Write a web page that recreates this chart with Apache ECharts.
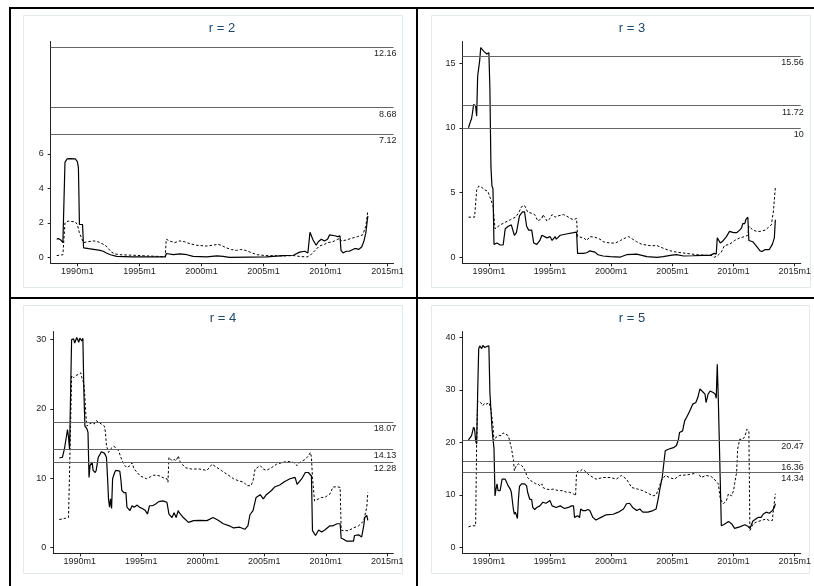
<!DOCTYPE html>
<html>
<head>
<meta charset="utf-8">
<script src="https://cdn.jsdelivr.net/npm/echarts@6/dist/echarts.min.js"></script>
<style>
  html, body { margin: 0; padding: 0; background: #fff; }
  #chart { width: 814px; height: 586px; }
</style>
</head>
<body>
<div id="chart"></div>
<script>
// Recursive test statistics by cointegration rank, monthly 1988m5-2013m6.
// Solid and dashed traces per rank, with critical values as horizontal rules.

const titles = ['r = 2', 'r = 3', 'r = 4', 'r = 5'];
const xTickLabels = ['1990m1', '1995m1', '2000m1', '2005m1', '2010m1', '2015m1'];
const yTicks2 = [0, 2, 4, 6];
const yTicks3 = [0, 5, 10, 15];
const yTicks4 = [0, 10, 20, 30];
const yTicks5 = [0, 10, 20, 30, 40];

const crit2 = [12.16, 8.68, 7.12];
const crit3 = [15.56, 11.72, 10];
const crit4 = [18.07, 14.13, 12.28];
const crit5 = [20.47, 16.36, 14.34];

const r2Solid = [['1988m5',1.05],['1988m7',1.08],['1988m9',1.0],['1988m11',0.85],['1988m12',0.78],
  ['1989m1',5.5],['1989m3',5.7],['1989m6',5.72],['1989m11',5.7],['1990m1',5.55],['1990m2',5.2],['1990m3',1.9],
  ['1990m6',1.9],['1990m7',0.55],['1990m12',0.5],['1991m11',0.4],['1992m2',0.35],['1992m5',0.25],['1992m9',0.15],
  ['1993m3',0.05],['1994m6',0.02],['1997m2',0.02],['1997m3',0.22],['1997m10',0.15],['1998m4',0.2],['1998m11',0.15],
  ['1999m5',0.05],['2000m6',0.02],['2001m4',0.08],['2001m10',0.05],['2002m4',0.0],['2005m4',0.02],['2006m8',0.1],
  ['2007m6',0.12],['2007m12',0.3],['2008m5',0.35],['2008m8',0.25],['2008m9',0.28],['2008m10',1.45],['2009m1',1.0],
  ['2009m4',0.7],['2009m6',0.9],['2009m9',1.05],['2009m12',0.95],['2010m3',1.05],['2010m5',1.3],['2010m10',1.25],
  ['2011m1',1.2],['2011m3',1.25],['2011m4',0.4],['2011m6',0.25],['2011m9',0.35],['2011m12',0.35],['2012m5',0.5],
  ['2012m7',0.5],['2012m9',0.45],['2012m12',0.6],['2013m2',0.9],['2013m4',1.4],['2013m6',2.4]];

const r2Dashed = [['1988m5',0.1],['1988m11',0.15],['1988m12',0.2],['1989m1',2.0],['1989m4',2.1],['1989m11',2.05],
  ['1990m1',1.9],['1990m3',1.4],['1990m7',0.85],['1990m11',0.9],['1991m5',0.95],['1991m9',0.9],['1992m4',0.7],
  ['1992m7',0.5],['1992m10',0.3],['1993m1',0.2],['1993m6',0.15],['1994m7',0.12],['1995m8',0.08],['1996m8',0.05],
  ['1997m2',0.03],['1997m3',1.05],['1997m6',0.95],['1997m11',0.85],['1998m4',0.95],['1998m9',0.9],['1999m1',0.8],
  ['1999m8',0.7],['2000m6',0.65],['2000m12',0.7],['2001m5',0.75],['2001m8',0.7],['2002m1',0.55],['2002m6',0.45],
  ['2002m11',0.4],['2003m3',0.45],['2003m8',0.4],['2004m2',0.25],['2004m7',0.15],['2005m3',0.1],['2006m8',0.08],
  ['2007m6',0.1],['2007m12',0.05],['2008m7',0.02],['2008m10',0.1],['2009m3',0.4],['2009m7',0.65],['2009m12',0.75],
  ['2010m3',0.85],['2010m8',0.9],['2011m1',1.05],['2011m3',1.1],['2011m4',0.95],['2011m9',1.0],['2012m2',1.1],
  ['2012m8',1.2],['2013m1',1.3],['2013m4',1.8],['2013m6',2.7]];

const r3Solid = [['1988m5',10.0],['1988m7',10.5],['1988m8',10.7],['1988m9',11.2],['1988m10',11.8],['1988m12',11.7],
  ['1989m1',10.9],['1989m2',14.0],['1989m4',15.2],['1989m5',16.2],['1989m6',16.1],['1989m8',15.9],['1989m9',15.9],
  ['1989m11',15.7],['1990m1',15.8],['1990m2',13.0],['1990m3',7.0],['1990m4',5.5],['1990m5',5.3],['1990m6',1.0],
  ['1990m9',1.1],['1990m12',0.95],['1991m3',0.95],['1991m5',2.2],['1991m8',2.4],['1991m11',2.5],['1992m2',1.7],
  ['1992m4',1.9],['1992m7',3.2],['1992m10',3.5],['1992m12',3.5],['1993m2',2.4],['1993m4',2.1],['1993m7',2.1],
  ['1993m9',1.1],['1993m12',1.0],['1994m3',1.3],['1994m5',1.7],['1994m10',1.5],['1995m1',1.6],['1995m3',1.3],
  ['1995m6',1.6],['1995m7',1.4],['1995m11',1.7],['1996m5',1.8],['1996m12',1.9],['1997m3',1.95],['1997m4',0.3],
  ['1997m10',0.3],['1998m1',0.35],['1998m4',0.5],['1998m9',0.4],['1998m12',0.2],['1999m5',0.1],['1999m12',0.05],
  ['2000m10',0.02],['2001m4',0.2],['2002m2',0.25],['2002m7',0.15],['2002m12',0.05],['2003m10',0.0],['2004m4',0.05],
  ['2004m11',0.15],['2005m5',0.2],['2005m12',0.1],['2006m9',0.12],['2007m7',0.15],['2008m2',0.15],['2008m6',0.3],
  ['2008m8',0.25],['2008m9',1.5],['2008m12',1.1],['2009m3',1.3],['2009m6',1.6],['2009m9',2.0],['2010m1',1.9],
  ['2010m4',1.9],['2010m7',2.1],['2010m9',2.3],['2010m10',2.6],['2010m12',2.6],['2011m1',2.9],['2011m3',3.1],
  ['2011m4',1.3],['2011m8',1.2],['2011m12',0.8],['2012m3',0.5],['2012m5',0.45],['2012m8',0.6],['2012m12',0.6],
  ['2013m3',1.0],['2013m5',1.5],['2013m6',2.9]];

const r3Dashed = [['1988m5',3.1],['1988m11',3.1],['1988m12',3.05],['1989m1',5.2],['1989m3',5.5],['1989m6',5.4],
  ['1989m9',5.2],['1989m12',5.1],['1990m4',4.2],['1990m5',4.0],['1990m7',2.2],['1990m12',2.5],['1991m5',2.7],
  ['1991m10',2.9],['1992m3',3.1],['1992m6',3.4],['1992m9',3.9],['1992m12',4.0],['1993m3',3.5],['1993m7',3.4],
  ['1993m10',3.3],['1994m1',2.8],['1994m5',3.0],['1994m6',3.3],['1994m10',2.8],['1995m1',3.0],['1995m3',3.3],
  ['1995m6',3.1],['1995m9',3.2],['1996m2',3.3],['1996m5',3.2],['1996m9',3.0],['1996m12',2.9],['1997m3',3.0],
  ['1997m4',1.6],['1997m10',1.5],['1998m1',1.3],['1998m4',1.6],['1998m9',1.55],['1999m2',1.4],['1999m5',1.2],
  ['1999m12',1.1],['2000m5',1.1],['2000m10',1.3],['2001m3',1.5],['2001m6',1.6],['2001m10',1.4],['2002m2',1.2],
  ['2002m7',1.0],['2003m3',0.9],['2003m10',0.9],['2004m4',0.7],['2004m11',0.5],['2005m5',0.4],['2006m3',0.3],
  ['2007m1',0.2],['2007m10',0.15],['2008m3',0.15],['2008m6',0.0],['2008m9',0.1],['2009m1',0.4],['2009m4',0.9],
  ['2009m9',1.0],['2010m2',1.3],['2010m7',1.5],['2010m12',1.6],['2011m3',1.7],['2011m4',2.4],['2011m8',2.1],
  ['2011m12',2.0],['2012m3',2.0],['2012m8',2.1],['2012m11',2.3],['2013m2',2.5],['2013m4',3.5],['2013m6',5.4]];

const r4Solid = [['1988m5',12.9],['1988m8',13.0],['1988m10',14.2],['1988m11',14.4],['1989m1',17.0],['1989m2',15.9],
  ['1989m3',14.2],['1989m4',22.0],['1989m5',30.0],['1989m7',30.1],['1989m8',29.5],['1989m10',30.3],['1989m12',29.6],
  ['1990m1',30.2],['1990m3',29.8],['1990m4',30.2],['1990m5',22.4],['1990m6',17.5],['1990m8',17.1],['1990m9',16.6],
  ['1990m10',10.1],['1990m11',11.8],['1991m1',12.3],['1991m2',11.1],['1991m4',10.8],['1991m5',11.1],['1991m7',13.0],
  ['1991m9',13.5],['1991m10',13.8],['1992m1',13.6],['1992m3',13.0],['1992m4',10.3],['1992m5',7.0],['1992m6',5.8],
  ['1992m7',7.0],['1992m8',5.6],['1992m9',9.9],['1992m11',10.8],['1992m12',11.1],['1993m4',11.0],['1993m5',9.9],
  ['1993m6',8.2],['1993m8',7.9],['1993m10',7.9],['1993m11',5.8],['1994m2',5.3],['1994m4',6.0],['1994m6',5.8],
  ['1994m9',6.1],['1994m11',5.8],['1995m2',5.6],['1995m5',5.3],['1995m7',4.8],['1995m9',6.0],['1995m12',6.0],
  ['1996m3',6.25],['1996m6',6.6],['1996m10',6.7],['1997m2',6.5],['1997m4',4.8],['1997m7',4.3],['1997m9',5.0],
  ['1997m11',4.3],['1998m1',5.3],['1998m2',5.0],['1998m6',4.3],['1998m11',3.6],['1999m4',3.85],['1999m10',3.9],
  ['2000m5',3.85],['2000m11',4.3],['2001m4',3.9],['2001m9',3.4],['2002m3',3.1],['2002m7',2.8],['2003m1',2.9],
  ['2003m6',2.6],['2003m9',3.1],['2003m11',4.7],['2004m2',5.3],['2004m5',7.2],['2004m9',7.6],['2004m12',7.0],
  ['2005m3',7.6],['2005m8',8.2],['2005m11',8.7],['2006m4',9.0],['2006m9',9.5],['2007m2',9.9],['2007m7',10.1],
  ['2007m9',9.1],['2008m2',10.0],['2008m5',10.8],['2008m8',10.8],['2008m11',10.3],['2008m12',2.4],['2009m3',1.7],
  ['2009m6',2.5],['2009m9',2.2],['2009m12',2.5],['2010m5',3.1],['2010m8',3.1],['2010m12',3.4],['2011m3',3.4],
  ['2011m4',1.3],['2011m6',1.2],['2011m9',0.9],['2012m4',0.9],['2012m5',1.7],['2012m9',1.8],['2012m12',1.5],
  ['2013m2',3.1],['2013m3',4.3],['2013m5',4.6],['2013m6',3.9]];

const r4Dashed = [['1988m5',4.0],['1988m11',4.2],['1989m2',4.3],['1989m3',4.3],['1989m4',17.5],['1989m5',24.8],
  ['1989m7',24.5],['1989m9',24.8],['1989m12',25.0],['1990m2',25.2],['1990m3',24.5],['1990m5',23.6],['1990m6',21.6],
  ['1990m7',19.0],['1990m8',17.5],['1990m10',17.8],['1991m1',18.0],['1991m3',17.8],['1991m5',18.3],['1991m8',18.0],
  ['1991m10',17.8],['1992m1',17.5],['1992m2',16.6],['1992m3',14.7],['1992m5',13.7],['1992m7',14.2],['1992m10',14.6],
  ['1992m12',14.4],['1993m3',13.9],['1993m5',13.0],['1993m7',12.3],['1993m9',11.8],['1993m11',11.5],['1994m2',11.8],
  ['1994m4',12.2],['1994m6',11.3],['1994m9',10.8],['1994m12',10.3],['1995m3',10.1],['1995m6',9.9],['1995m10',10.2],
  ['1996m1',10.4],['1996m4',10.4],['1996m7',10.3],['1996m11',10.0],['1997m2',9.9],['1997m3',9.4],['1997m4',13.0],
  ['1997m7',12.5],['1997m9',12.7],['1997m11',12.5],['1998m1',13.2],['1998m3',12.3],['1998m8',11.5],['1999m2',11.3],
  ['1999m10',11.3],['2000m5',11.1],['2000m10',12.0],['2001m3',11.5],['2001m7',11.1],['2001m12',10.6],['2002m7',9.9],
  ['2002m12',9.6],['2003m5',9.4],['2003m8',8.9],['2003m12',8.9],['2004m2',9.6],['2004m4',11.3],['2004m9',11.8],
  ['2004m12',11.3],['2005m3',11.1],['2005m8',11.5],['2006m1',12.0],['2006m8',12.3],['2006m12',12.4],['2007m5',12.3],
  ['2007m9',11.8],['2007m12',12.3],['2008m5',12.7],['2008m8',13.2],['2008m10',13.7],['2008m11',13.0],['2008m12',10.1],
  ['2009m2',6.7],['2009m6',7.0],['2009m9',7.2],['2009m12',7.2],['2010m5',7.7],['2010m8',8.7],['2010m12',8.75],
  ['2011m3',8.65],['2011m4',2.5],['2011m6',2.4],['2011m11',2.4],['2012m4',2.8],['2012m9',3.1],['2012m12',3.5],
  ['2013m2',3.85],['2013m5',5.8],['2013m6',7.9]];

const r5Solid = [['1988m5',20.5],['1988m6',20.6],['1988m8',21.3],['1988m10',22.9],['1988m11',22.5],['1988m12',20.3],
  ['1989m1',19.7],['1989m2',29.5],['1989m3',37.8],['1989m4',38.4],['1989m6',37.9],['1989m7',38.5],['1989m9',38.1],
  ['1989m11',38.3],['1990m1',38.4],['1990m2',29.5],['1990m4',22.9],['1990m5',20.6],['1990m6',18.9],['1990m7',9.8],
  ['1990m8',11.1],['1990m9',12.1],['1990m10',10.8],['1990m11',11.1],['1990m12',10.8],['1991m2',13.0],['1991m3',13.3],
  ['1991m5',13.0],['1991m6',12.7],['1991m7',12.1],['1991m8',11.7],['1991m10',11.1],['1991m11',10.5],['1992m1',7.3],
  ['1992m2',6.3],['1992m3',6.7],['1992m5',5.5],['1992m6',9.2],['1992m7',11.6],['1992m9',12.1],['1992m12',12.1],
  ['1993m2',11.7],['1993m3',10.5],['1993m5',9.2],['1993m7',9.1],['1993m8',7.6],['1993m10',7.2],['1993m12',7.6],
  ['1994m3',7.9],['1994m6',8.6],['1994m9',8.4],['1995m1',8.9],['1995m3',7.9],['1995m7',7.6],['1995m11',7.9],
  ['1996m3',7.4],['1996m7',7.6],['1996m10',7.9],['1996m12',7.9],['1997m1',5.7],['1997m4',6.0],['1997m6',5.7],
  ['1997m7',7.3],['1997m9',7.0],['1997m12',7.0],['1998m2',7.2],['1998m4',7.0],['1998m7',5.7],['1998m10',5.2],
  ['1999m3',5.7],['1999m8',6.2],['2000m3',6.3],['2000m8',6.7],['2001m1',7.3],['2001m4',8.3],['2001m7',8.4],
  ['2001m10',7.6],['2002m2',7.0],['2002m5',7.3],['2002m8',6.7],['2003m1',6.7],['2003m6',7.0],['2003m9',7.3],
  ['2003m11',9.2],['2004m1',11.4],['2004m3',13.3],['2004m6',18.4],['2004m9',18.7],['2005m2',19.0],['2005m5',19.4],
  ['2005m7',20.6],['2005m8',21.9],['2005m11',22.2],['2006m1',24.1],['2006m3',24.8],['2006m6',26.0],['2006m9',27.3],
  ['2006m12',27.6],['2007m2',28.6],['2007m4',30.2],['2007m6',29.8],['2007m9',29.2],['2007m10',27.6],['2007m12',29.2],
  ['2008m2',29.8],['2008m5',29.5],['2008m7',29.2],['2008m8',28.4],['2008m9',34.9],['2008m10',28.5],['2009m1',4.1],
  ['2009m4',4.4],['2009m8',4.9],['2009m11',4.5],['2010m2',3.6],['2010m7',3.9],['2010m12',4.3],['2011m3',4.0],
  ['2011m5',3.6],['2011m8',5.0],['2012m1',5.7],['2012m4',5.7],['2012m6',6.3],['2012m9',6.7],['2012m12',6.5],
  ['2013m3',7.0],['2013m5',7.6],['2013m6',8.3]];

const r5Dashed = [['1988m5',3.9],['1988m8',4.1],['1988m12',4.1],['1989m1',20.0],['1989m2',27.9],['1989m5',27.6],
  ['1989m7',27.0],['1989m9',27.5],['1989m11',27.3],['1990m1',27.6],['1990m3',26.3],['1990m4',24.8],['1990m5',23.2],
  ['1990m6',20.3],['1990m8',21.0],['1990m11',21.3],['1991m1',21.3],['1991m3',21.8],['1991m5',21.6],['1991m8',21.3],
  ['1991m9',20.6],['1991m11',19.0],['1992m1',16.8],['1992m2',14.6],['1992m4',15.6],['1992m6',15.9],['1992m7',16.2],
  ['1992m9',15.6],['1992m11',15.2],['1993m1',14.3],['1993m3',13.3],['1993m6',12.7],['1993m8',12.5],['1993m11',12.1],
  ['1994m1',12.1],['1994m3',11.7],['1994m5',12.1],['1994m6',11.4],['1994m9',11.1],['1995m1',11.0],['1995m4',11.1],
  ['1995m7',10.9],['1995m11',10.8],['1996m2',10.8],['1996m5',10.5],['1996m8',10.5],['1996m12',10.2],['1997m2',9.8],
  ['1997m3',14.3],['1997m5',14.6],['1997m7',14.6],['1997m9',14.9],['1997m11',14.6],['1998m2',14.0],['1998m4',13.7],
  ['1998m10',13.0],['1999m5',13.3],['1999m12',13.3],['2000m6',13.0],['2000m11',13.7],['2001m4',13.0],['2001m9',11.4],
  ['2002m3',11.1],['2002m8',10.8],['2003m1',10.3],['2003m6',9.8],['2003m9',10.0],['2003m12',11.4],['2004m2',12.7],
  ['2004m6',13.7],['2004m10',13.3],['2005m3',13.0],['2005m8',13.7],['2006m3',13.8],['2006m9',14.0],['2007m2',14.3],
  ['2007m5',13.3],['2007m10',13.7],['2008m3',13.5],['2008m6',13.0],['2008m10',12.1],['2008m12',9.2],['2009m3',8.3],
  ['2009m6',8.9],['2009m8',10.2],['2009m11',9.8],['2010m1',10.8],['2010m2',12.1],['2010m4',14.3],['2010m5',18.7],
  ['2010m7',20.6],['2010m10',20.6],['2010m12',21.1],['2011m2',22.5],['2011m4',22.2],['2011m5',3.2],['2011m8',4.4],
  ['2011m11',4.8],['2012m4',5.1],['2012m9',5.4],['2012m12',5.1],['2013m3',5.1],['2013m4',7.0],['2013m6',10.2]];

// ---- helpers --------------------------------------------------------------
// Monthly dates as months since 1960m1 (Stata %tm)
function tm(s) {
  const [y, m] = s.split('m').map(Number);
  return (y - 1960) * 12 + (m - 1);
}
function fmtTm(v) {
  const k = Math.round(v);
  return (1960 + Math.floor(k / 12)) + 'm' + ((k % 12 + 12) % 12 + 1);
}
const xTicks = xTickLabels.map(tm);

const FONT = '"Liberation Sans", Arial, Helvetica, sans-serif';
const INK = '#222';
const FS = 9;    // tick and rule label size
const EDGE = 6;  // gap in px between plotted range and end of each axis line

function padded(lo, hi, px) {
  const p = EDGE * (hi - lo) / (px - 2 * EDGE);
  return [lo - p, hi + p];
}

const layout = [
  { left: 50.7,  top: 41.5,  width: 342.8, height: 221.8, tx: 222, ty: 28.5 },
  { left: 462.5, top: 41.5,  width: 338.5, height: 221.8, tx: 632, ty: 28.5 },
  { left: 53.3,  top: 331.5, width: 340.0, height: 221.8, tx: 223, ty: 318.5 },
  { left: 462.5, top: 331.5, width: 338.5, height: 221.8, tx: 632, ty: 318.5 }
];

const panels = [
  { solid: r2Solid, dashed: r2Dashed, crit: crit2, yTicks: yTicks2 },
  { solid: r3Solid, dashed: r3Dashed, crit: crit3, yTicks: yTicks3 },
  { solid: r4Solid, dashed: r4Dashed, crit: crit4, yTicks: yTicks4 },
  { solid: r5Solid, dashed: r5Dashed, crit: crit5, yTicks: yTicks5 }
];

const grid = [], xAxis = [], yAxis = [], series = [], graphic = [];

panels.forEach((p, i) => {
  const g = layout[i];
  const solid = p.solid.map(d => [tm(d[0]), d[1]]);
  const dashed = p.dashed.map(d => [tm(d[0]), d[1]]);
  const all = solid.concat(dashed);

  const xs = all.map(d => d[0]);
  const ys = all.map(d => d[1]);
  const [x0, x1] = padded(Math.min(...xs, xTicks[0]), Math.max(...xs, xTicks[xTicks.length - 1]), g.width);
  const [y0, y1] = padded(Math.min(0, ...ys), Math.max(...ys, ...p.crit, p.yTicks[p.yTicks.length - 1]), g.height);

  grid.push({ left: g.left, top: g.top, width: g.width, height: g.height, containLabel: false });

  xAxis.push({
    gridIndex: i, type: 'value', min: x0, max: x1,
    axisLine: { show: true, onZero: false, lineStyle: { color: INK, width: 1 } },
    axisTick: { show: true, length: 3, customValues: xTicks, lineStyle: { color: INK } },
    axisLabel: { customValues: xTicks, formatter: fmtTm, fontSize: FS, fontFamily: FONT, color: INK, margin: 4 },
    splitLine: { show: false }
  });
  yAxis.push({
    gridIndex: i, type: 'value', min: y0, max: y1,
    axisLine: { show: true, onZero: false, lineStyle: { color: INK, width: 1 } },
    axisTick: { show: true, length: 3, customValues: p.yTicks, lineStyle: { color: INK } },
    axisLabel: { customValues: p.yTicks, fontSize: FS, fontFamily: FONT, color: INK, margin: 7 },
    splitLine: { show: false }
  });

  series.push({
    type: 'line', xAxisIndex: i, yAxisIndex: i, data: solid,
    showSymbol: false, symbol: 'none', animation: false, z: 3,
    lineStyle: { color: '#000', width: 1.2 },
    markLine: {
      silent: true, symbol: ['none', 'none'], animation: false,
      lineStyle: { color: '#666', width: 1, type: 'solid' },
      label: {
        position: 'insideEndBottom', distance: [-3, 2],
        formatter: m => String(m.value),
        fontSize: FS, fontFamily: FONT, color: INK
      },
      emphasis: { disabled: true },
      data: p.crit.map(v => ({ yAxis: v }))
    }
  });
  series.push({
    type: 'line', xAxisIndex: i, yAxisIndex: i, data: dashed,
    showSymbol: false, symbol: 'none', animation: false, z: 2,
    lineStyle: { color: '#000', width: 1, type: [2.5, 2] }
  });

  graphic.push({
    type: 'text', x: g.tx, y: g.ty, z: 10,
    style: { text: titles[i], textAlign: 'center', textVerticalAlign: 'middle',
             fontSize: 13, fontFamily: FONT, fill: '#1a476f' }
  });
});

// faint region outlines around each panel
[[23.5, 15.5, 379, 272], [431.5, 15.5, 379, 272], [23.5, 305.5, 379, 268], [431.5, 305.5, 378, 268]]
  .forEach(r => graphic.push({
    type: 'rect', z: 0, silent: true,
    shape: { x: r[0], y: r[1], width: r[2], height: r[3] },
    style: { fill: 'none', stroke: '#e2eaec', lineWidth: 1 }
  }));

// heavy frame separating the four panels
[[9, 7, 805, 2], [9, 7, 2, 579], [416, 7, 2, 579], [9, 297, 805, 2]]
  .forEach(r => graphic.push({
    type: 'rect', z: 20, silent: true,
    shape: { x: r[0], y: r[1], width: r[2], height: r[3] },
    style: { fill: '#000' }
  }));

const chart = echarts.init(document.getElementById('chart'), null, { renderer: 'canvas' });
chart.setOption({
  backgroundColor: '#fff',
  animation: false,
  grid, xAxis, yAxis, series, graphic
});
</script>
</body>
</html>
